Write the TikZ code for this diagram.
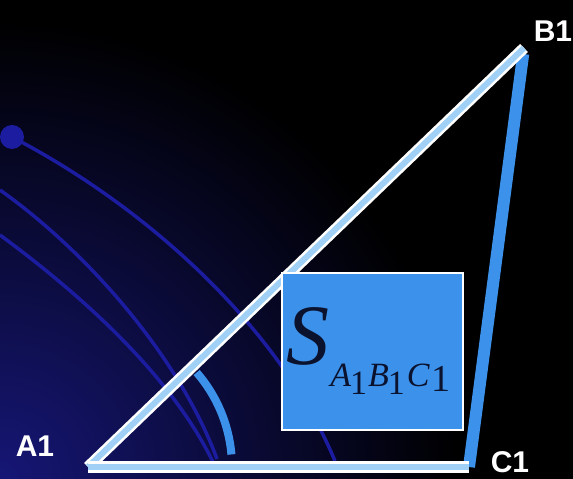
\documentclass[tikz,border=0pt]{standalone}
\usepackage{fontspec}
\setmainfont{Liberation Sans}
\newfontfamily\tnr{Liberation Serif}
\usetikzlibrary{calc}
\definecolor{skyfill}{RGB}{60,145,235}
\definecolor{paleline}{RGB}{160,208,245}
\definecolor{arcnavy}{RGB}{28,28,160}
\definecolor{glownavy}{RGB}{22,22,118}
\definecolor{inkdark}{RGB}{10,18,45}
\newcommand{\lblfont}{\fontsize{30}{30}\selectfont\bfseries}
\newcommand{\subfont}{\fontsize{34}{34}\selectfont}

\begin{document}
\begin{tikzpicture}[x=1pt, y=1pt,
  dbl/.style      = {draw=white, line width=2.6pt, double=paleline, double distance=6pt},
  side/.style     = {draw=skyfill, line width=12pt},
  anglemark/.style= {draw=skyfill, line width=8pt},
  bgarc/.style    = {draw=arcnavy, line width=3.5pt},
  areabox/.style  = {draw=white, line width=1.2pt, fill=skyfill, text=inkdark,
                     minimum width=181pt, minimum height=157pt, inner sep=0pt},
  lbl/.style      = {text=white, font=\lblfont, inner sep=0pt}
]

% ---------- background ------------------------------------------------
\useasboundingbox (0,0) rectangle (573,479);
\fill[black] (0,0) rectangle (573,479);
\begin{scope}
  \clip (0,0) rectangle (573,479);
  \shade[inner color=glownavy, outer color=black] (0,0) circle (460);
\end{scope}

% ---------- decorative arcs -------------------------------------------
\node[circle, fill=arcnavy, minimum size=24pt, inner sep=0pt] (dot) at (12,342) {};
\draw[bgarc] (dot.center) .. controls (150,270) and (280,150) .. (335,18);
\draw[bgarc] (0,289) .. controls (90,225) and (180,120) .. (217,20);
\draw[bgarc] (0,244) .. controls (80,185) and (170,105) .. (213,17);

% ---------- triangle --------------------------------------------------
\coordinate (A) at (88,12);
\coordinate (B) at (524,431);
\coordinate (C) at (469,12);

\draw[side, shorten >=6pt] (C) -- (B);
\draw[dbl] (A) -- (B);
\draw[dbl] (A) -- (C);

% angle at A1
\draw[anglemark] ($(A)+(5:144)$) arc[start angle=5, end angle=41, radius=144];

% ---------- area box --------------------------------------------------
\node[areabox] (area) at (372.5,127.5)
  {{\tnr\itshape\fontsize{86}{86}\selectfont S}\kern1pt\raisebox{-22pt}{\tnr\subfont\itshape
   A\kern-1pt\raisebox{-8pt}{\upshape 1}\kern1pt B\kern-1pt\raisebox{-8pt}{\upshape 1}\kern2pt
   C\kern2pt\raisebox{-5pt}{\upshape\fontsize{38}{38}\selectfont 1}}\kern8pt};

% ---------- vertex labels ---------------------------------------------
\node[lbl] (lA) at (35,33)  {A1};
\node[lbl] (lB) at (553,448) {B1};
\node[lbl] (lC) at (510,17) {C1};

\end{tikzpicture}
\end{document}
